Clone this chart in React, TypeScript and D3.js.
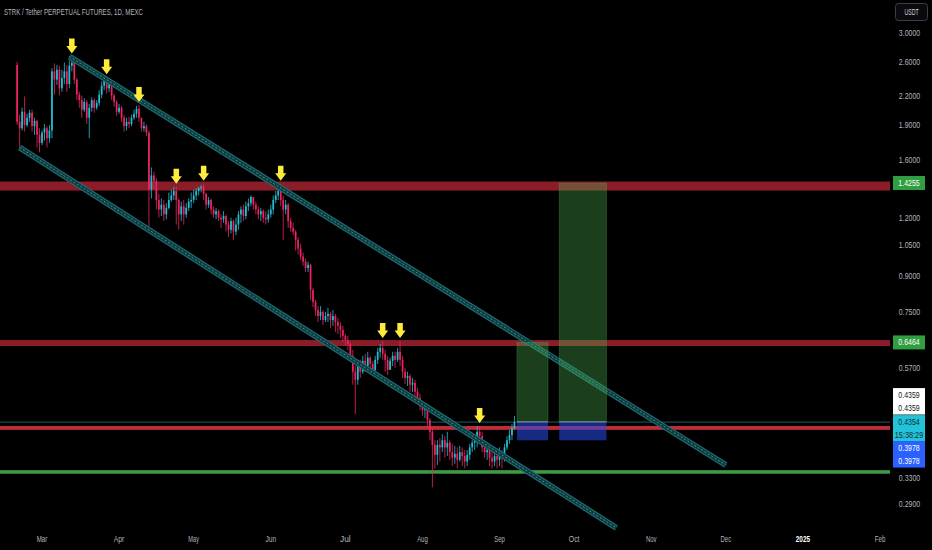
import React from 'react';
import * as d3 from 'd3';

const W = 932;
const H = 550;
const PLOT_RIGHT = 890;
const DAY = 864e5;

// daily candles from 2024-02-20, open = previous close
const firstDay = Date.UTC(2024, 1, 20);
const firstOpen = 2.56;
const closes = [
  1.93, 1.87, 2.03, 1.90, 1.97, 2.02, 1.89, 1.94, 1.81, 1.74,
  1.83, 1.87, 1.78, 1.85, 2.48, 2.38, 2.50, 2.28, 2.40, 2.48,
  2.33, 2.55, 2.59, 2.38, 2.21, 2.15, 2.05, 2.13, 1.97, 2.07,
  2.15, 2.07, 2.12, 2.21, 2.31, 2.38, 2.28, 2.33, 2.20, 2.13,
  2.03, 2.07, 1.97, 1.89, 1.93, 1.91, 1.97, 2.01, 2.06, 1.97,
  1.87, 1.89, 1.83, 1.38, 1.48, 1.44, 1.31, 1.25, 1.28, 1.22,
  1.26, 1.31, 1.34, 1.37, 1.31, 1.22, 1.27, 1.22, 1.26, 1.30,
  1.31, 1.34, 1.37, 1.39, 1.40, 1.35, 1.28, 1.31, 1.25, 1.22,
  1.24, 1.20, 1.19, 1.21, 1.16, 1.13, 1.18, 1.12, 1.16, 1.22,
  1.25, 1.21, 1.27, 1.29, 1.33, 1.28, 1.25, 1.22, 1.24, 1.20,
  1.19, 1.22, 1.25, 1.31, 1.34, 1.37, 1.31, 1.25, 1.28, 1.18,
  1.14, 1.12, 1.075, 1.03, 0.99, 0.965, 0.935, 0.95, 0.838, 0.79,
  0.759, 0.737, 0.752, 0.722, 0.737, 0.745, 0.722, 0.737, 0.715, 0.702,
  0.688, 0.668, 0.654, 0.641, 0.605, 0.559, 0.537, 0.575, 0.559, 0.590,
  0.575, 0.599, 0.581, 0.564, 0.593, 0.617, 0.629, 0.611, 0.593, 0.564,
  0.590, 0.605, 0.593, 0.617, 0.593, 0.559, 0.542, 0.547, 0.524, 0.529,
  0.506, 0.491, 0.474, 0.462, 0.467, 0.440, 0.415, 0.389, 0.370, 0.389,
  0.384, 0.398, 0.384, 0.393, 0.375, 0.365, 0.372, 0.361, 0.375, 0.368,
  0.358, 0.370, 0.384, 0.393, 0.398, 0.415, 0.406, 0.384, 0.375, 0.379,
  0.365, 0.358, 0.368, 0.361, 0.375, 0.365, 0.384, 0.398, 0.408, 0.423,
  0.4354,
];
const highs = [
  2.60, 2.00, 2.07, 2.19, 2.01, 2.05, 2.05, 1.97, 1.95, 1.87,
  1.85, 1.91, 1.89, 1.90, 2.52, 2.58, 2.56, 2.55, 2.50, 2.59,
  2.56, 2.62, 2.67, 2.65, 2.40, 2.24, 2.20, 2.17, 2.15, 2.11,
  2.18, 2.17, 2.15, 2.26, 2.36, 2.40, 2.41, 2.38, 2.34, 2.22,
  2.15, 2.11, 2.09, 2.00, 1.97, 1.98, 2.00, 2.05, 2.09, 2.10,
  1.97, 1.93, 1.91, 1.85, 1.54, 1.51, 1.46, 1.35, 1.32, 1.31,
  1.29, 1.36, 1.38, 1.40, 1.40, 1.32, 1.30, 1.31, 1.29, 1.32,
  1.36, 1.38, 1.39, 1.40, 1.41, 1.42, 1.36, 1.33, 1.32, 1.27,
  1.26, 1.25, 1.22, 1.24, 1.22, 1.18, 1.20, 1.19, 1.20, 1.24,
  1.27, 1.28, 1.30, 1.32, 1.34, 1.33, 1.30, 1.27, 1.26, 1.25,
  1.24, 1.25, 1.28, 1.34, 1.37, 1.40, 1.42, 1.34, 1.31, 1.29,
  1.20, 1.17, 1.13, 1.09, 1.055, 1.01, 0.98, 0.965, 0.955, 0.847,
  0.798, 0.774, 0.774, 0.759, 0.752, 0.767, 0.752, 0.759, 0.745, 0.730,
  0.715, 0.702, 0.674, 0.668, 0.648, 0.623, 0.575, 0.590, 0.593, 0.605,
  0.611, 0.617, 0.605, 0.590, 0.605, 0.629, 0.641, 0.651, 0.623, 0.605,
  0.599, 0.617, 0.617, 0.629, 0.651, 0.605, 0.570, 0.559, 0.553, 0.542,
  0.537, 0.516, 0.501, 0.481, 0.476, 0.472, 0.444, 0.423, 0.398, 0.398,
  0.402, 0.410, 0.406, 0.415, 0.398, 0.391, 0.387, 0.384, 0.387, 0.384,
  0.379, 0.379, 0.391, 0.398, 0.410, 0.427, 0.427, 0.415, 0.398, 0.387,
  0.384, 0.375, 0.375, 0.375, 0.384, 0.379, 0.391, 0.406, 0.419, 0.431,
  0.449,
];
const lows = [
  1.90, 1.68, 1.85, 1.84, 1.88, 1.93, 1.84, 1.81, 1.70, 1.66,
  1.72, 1.76, 1.70, 1.74, 1.78, 2.21, 2.32, 2.20, 2.24, 2.33,
  2.24, 2.28, 2.48, 2.33, 2.15, 2.07, 1.97, 2.03, 1.91, 1.78,
  2.03, 2.02, 2.05, 2.09, 2.17, 2.26, 2.22, 2.24, 2.15, 2.08,
  1.99, 2.01, 1.93, 1.84, 1.85, 1.87, 1.89, 1.95, 1.97, 1.93,
  1.84, 1.84, 1.80, 1.12, 1.32, 1.38, 1.25, 1.20, 1.21, 1.18,
  1.19, 1.25, 1.30, 1.31, 1.16, 1.13, 1.18, 1.16, 1.20, 1.24,
  1.26, 1.29, 1.31, 1.34, 1.36, 1.31, 1.25, 1.26, 1.22, 1.20,
  1.19, 1.18, 1.14, 1.17, 1.12, 1.09, 1.11, 1.075, 1.10, 1.13,
  1.17, 1.18, 1.19, 1.24, 1.27, 1.25, 1.22, 1.19, 1.18, 1.17,
  1.16, 1.17, 1.20, 1.22, 1.29, 1.31, 1.27, 1.075, 1.22, 1.14,
  1.12, 1.10, 1.02, 1.00, 0.973, 0.945, 0.917, 0.917, 0.798, 0.770,
  0.737, 0.715, 0.722, 0.705, 0.715, 0.715, 0.695, 0.702, 0.681, 0.674,
  0.661, 0.648, 0.635, 0.623, 0.587, 0.524, 0.453, 0.524, 0.542, 0.553,
  0.559, 0.570, 0.559, 0.547, 0.559, 0.581, 0.599, 0.593, 0.559, 0.550,
  0.564, 0.575, 0.570, 0.587, 0.575, 0.542, 0.526, 0.521, 0.506, 0.506,
  0.491, 0.476, 0.462, 0.449, 0.444, 0.423, 0.398, 0.315, 0.346, 0.352,
  0.358, 0.375, 0.365, 0.368, 0.361, 0.350, 0.354, 0.346, 0.358, 0.350,
  0.346, 0.350, 0.361, 0.375, 0.379, 0.384, 0.395, 0.375, 0.365, 0.361,
  0.350, 0.346, 0.350, 0.346, 0.350, 0.346, 0.358, 0.379, 0.391, 0.398,
  0.419,
];

const priceTicks = [3.0, 2.6, 2.2, 1.9, 1.6, 1.2, 1.05, 0.9, 0.75, 0.57, 0.33, 0.29];
const monthLabels = ['Mar', 'Apr', 'May', 'Jun', 'Jul', 'Aug', 'Sep', 'Oct', 'Nov', 'Dec', '2025', 'Feb'];

// candle indexes marked with a yellow arrow
const arrowCandles = [22, 36, 49, 64, 75, 106, 147, 154, 186];

const redBands = [[1.373, 1.436], [0.635, 0.654]];
const redLine = [0.419, 0.427];
const greenLine = [0.337, 0.343];
const currentPrice = 0.4354;
const entryPrice = 0.4359;
const stopPrice = 0.3978;

const channels = [
  { from: '2024-03-12', p0: 2.67, to: '2024-12-01', p1: 0.352 },
  { from: '2024-02-21', p0: 1.70, to: '2024-10-18', p1: 0.2575 },
];

const positions = [
  { start: '2024-09-08', end: '2024-09-20T12:00:00Z', target: 0.6464 },
  { start: '2024-09-25', end: '2024-10-14', target: 1.4255 },
];

const font = '"Liberation Sans", Arial, sans-serif';
const axisText = '#b2b5be';

export default function App() {
  const x = d3.scaleUtc()
    .domain([new Date(Date.UTC(2024, 2, 1)), new Date(Date.UTC(2025, 1, 1))])
    .range([42, 880]);
  const y = d3.scaleLog().domain([3.0, 0.29]).range([33, 504]);

  const candles = closes.map((c, i) => {
    const o = i === 0 ? firstOpen : closes[i - 1];
    return { date: new Date(firstDay + i * DAY), o, c, h: Math.max(highs[i], o, c), l: Math.min(lows[i], o, c) };
  });

  const months = d3.utcMonth.range(new Date(Date.UTC(2024, 2, 1)), new Date(Date.UTC(2025, 1, 2)));

  const label = (t: string, cx: number, cy: number, fill: string, weight = 'normal') => (
    <text x={cx} y={cy} fill={fill} fontSize={8.5} fontFamily={font} fontWeight={weight}
      textAnchor="middle" dominantBaseline="central"
      textLength={t.length * 3.55} lengthAdjust="spacingAndGlyphs">{t}</text>
  );

  const cy = y(currentPrice);
  const tagBoxes = [
    { top: cy - 34, bg: '#ffffff', fg: '#131722', lines: [entryPrice.toFixed(4), entryPrice.toFixed(4)] },
    { top: cy - 7, bg: '#22c3d8', fg: '#0b2e3a', lines: [currentPrice.toFixed(4), '15:38:29'] },
    { top: cy + 19, bg: '#2962ff', fg: '#ffffff', lines: [stopPrice.toFixed(4), stopPrice.toFixed(4)] },
  ];

  return (
    <svg width={W} height={H} style={{ position: 'absolute', left: 0, top: 0, background: '#000' }}>
      <rect width={W} height={H} fill="#000" />

      {/* horizontal levels */}
      {redBands.map(([lo, hi], i) => (
        <rect key={'rb' + i} x={0} width={PLOT_RIGHT} y={y(hi)} height={y(lo) - y(hi)} fill="#8b1d28" />
      ))}
      <rect x={0} width={PLOT_RIGHT} y={y(redLine[1])} height={y(redLine[0]) - y(redLine[1])} fill="#c02c39" />
      <rect x={0} width={PLOT_RIGHT} y={y(greenLine[1])} height={y(greenLine[0]) - y(greenLine[1])} fill="#3f9a44" />
      <line x1={0} x2={PLOT_RIGHT} y1={cy} y2={cy} stroke="#1c5a60" strokeWidth={1} />

      {/* candles */}
      {candles.map((d, i) => {
        const cx = x(d.date);
        const up = d.c >= d.o;
        const col = up ? '#22bfd4' : '#ef2361';
        const top = y(Math.max(d.o, d.c));
        const bh = Math.max(0.8, y(Math.min(d.o, d.c)) - top);
        return (
          <g key={i}>
            <line x1={cx} x2={cx} y1={y(d.h)} y2={y(d.l)} stroke={col} strokeWidth={0.8} />
            <rect x={cx - 0.85} width={1.7} y={top} height={bh} fill={col} />
          </g>
        );
      })}

      {/* channels */}
      {channels.map((ch, i) => {
        const x1 = x(new Date(ch.from)), y1 = y(ch.p0), x2 = x(new Date(ch.to)), y2 = y(ch.p1);
        return (
          <g key={'ch' + i}>
            <line x1={x1} y1={y1} x2={x2} y2={y2} stroke="#1f6a70" strokeWidth={6} />
            <line x1={x1} y1={y1} x2={x2} y2={y2} stroke="#0d3a3e" strokeWidth={3.6} />
            <line x1={x1} y1={y1} x2={x2} y2={y2} stroke="#3f9797" strokeWidth={1} strokeDasharray="2,2" />
          </g>
        );
      })}

      {/* long positions */}
      {positions.map((p, i) => {
        const x1 = x(new Date(p.start)), x2 = x(new Date(p.end));
        return (
          <g key={'pos' + i}>
            <rect x={x1} width={x2 - x1} y={y(p.target)} height={y(entryPrice) - y(p.target)}
              fill="rgba(76,175,80,0.36)" stroke="rgba(76,175,80,0.35)" strokeWidth={0.8} />
            <rect x={x1} width={x2 - x1} y={y(entryPrice)} height={y(stopPrice) - y(entryPrice)}
              fill="rgba(41,76,235,0.55)" />
            <line x1={x1} x2={x2} y1={y(entryPrice)} y2={y(entryPrice)} stroke="#8a8f9c" strokeWidth={1} />
          </g>
        );
      })}

      {/* arrows */}
      {arrowCandles.map((k) => {
        const d = candles[k];
        const cx = x(d.date);
        const tip = y(d.h) - 3;
        return (
          <path key={'ar' + k} fill="#ffeb3b"
            d={`M${cx - 2.75},${tip - 15}H${cx + 2.75}V${tip - 7.5}H${cx + 5.5}L${cx},${tip}L${cx - 5.5},${tip - 7.5}H${cx - 2.75}Z`} />
        );
      })}

      {/* title */}
      <text x={4} y={14.5} fill={axisText} fontSize={9} fontFamily={font}
        textLength={139} lengthAdjust="spacingAndGlyphs">STRK / Tether PERPETUAL FUTURES, 1D, MEXC</text>

      {/* price axis */}
      <rect x={895.5} y={3.5} width={32} height={17} rx={3} fill="#0a0a0e" stroke="#3b3f4a" />
      {label('USDT', 911.5, 12, '#d1d4dc')}
      {priceTicks.map((p) => (
        <g key={'pt' + p}>{label(p.toFixed(4), 909.5, y(p), axisText)}</g>
      ))}
      {[1.4255, 0.6464].map((p) => (
        <g key={'gl' + p}>
          <rect x={893} y={y(p) - 7} width={32} height={14} fill="#2f9d40" />
          {label(p.toFixed(4), 909, y(p), '#ffffff')}
        </g>
      ))}
      {tagBoxes.map((b, i) => (
        <g key={'tb' + i}>
          <rect x={893} y={b.top} width={32} height={26.5} fill={b.bg} />
          {label(b.lines[0], 909, b.top + 7, b.fg)}
          {label(b.lines[1], 909, b.top + 19.5, b.fg)}
        </g>
      ))}

      {/* time axis */}
      {months.map((m, i) => (
        <g key={'m' + i}>
          {label(monthLabels[i], x(m), 539, monthLabels[i] === '2025' ? '#ffffff' : axisText,
            monthLabels[i] === '2025' ? 'bold' : 'normal')}
        </g>
      ))}
    </svg>
  );
}
